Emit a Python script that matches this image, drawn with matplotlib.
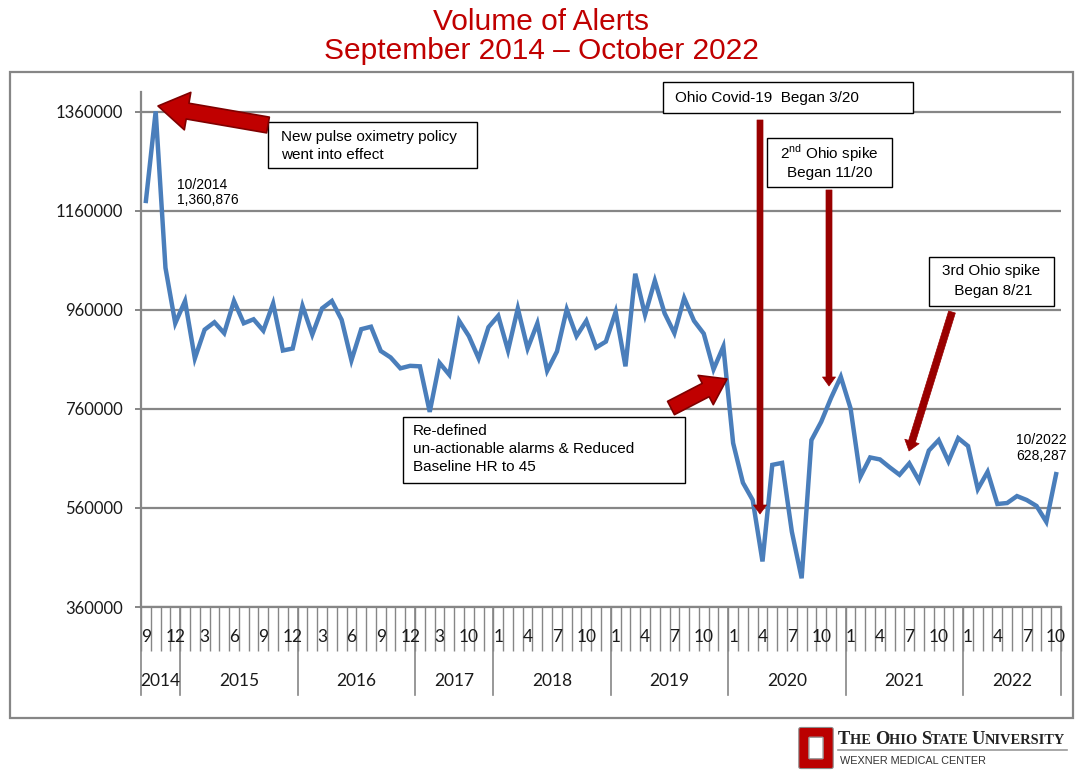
import matplotlib
matplotlib.use("Agg")
import matplotlib.pyplot as plt
import matplotlib.transforms as mtransforms
from matplotlib.patches import FancyArrowPatch, Rectangle, FancyBboxPatch

# ---------------- data ----------------
years = ["2014", "2015", "2016", "2017", "2018", "2019", "2020", "2021", "2022"]
months_per_year = [
    [9, 10, 11, 12],
    [1, 2, 3, 4, 5, 6, 7, 8, 9, 10, 11, 12],
    [1, 2, 3, 4, 5, 6, 7, 8, 9, 10, 11, 12],
    [1, 2, 3, 8, 9, 10, 11, 12],
    [1, 2, 3, 4, 5, 6, 7, 8, 9, 10, 11, 12],
    [1, 2, 3, 4, 5, 6, 7, 8, 9, 10, 11, 12],
    [1, 2, 3, 4, 5, 6, 7, 8, 9, 10, 11, 12],
    [1, 2, 3, 4, 5, 6, 7, 8, 9, 10, 11, 12],
    [1, 2, 3, 4, 5, 6, 7, 8, 9, 10],
]
alerts = [
    1180000, 1360876, 1045000, 933000,
    978000, 862000, 920000, 935000, 913000, 978000, 933000, 941000, 918000, 973000, 878000, 882000,
    968000, 910000, 963000, 978000, 940000, 858000, 921000, 926000, 877000, 864000, 842000, 847000,
    846000, 754000, 853000, 829000, 938000, 907000, 862000, 925000,
    948000, 878000, 963000, 882000, 933000, 837000, 876000, 961000, 907000, 938000, 884000, 896000,
    956000, 846000, 1033000, 950000, 1019000, 953000, 913000, 984000, 938000, 912000, 840000, 886000,
    691000, 611000, 576000, 452000, 647000, 651000, 512000, 418000, 697000, 734000, 782000, 825000,
    761000, 623000, 662000, 658000, 642000, 627000, 650000, 615000, 676000, 697000, 654000, 701000,
    685000, 598000, 633000, 568000, 570000, 584000, 576000, 564000, 532000, 628287,
]
y_ticks = [360000, 560000, 760000, 960000, 1160000, 1360000]
title_lines = ["Volume of Alerts", "September 2014 \u2013 October 2022"]

# ---------------- figure ----------------
W, H = 1083, 772
fig = plt.figure(figsize=(W / 100, H / 100), dpi=100)
fig.patch.set_facecolor("white")

def fx(px):
    return px / W

def fy(py):
    return 1 - py / H

AX_L, AX_R, AX_T, AX_B = 141, 1061, 92, 607
ax = fig.add_axes([fx(AX_L), fy(AX_B), (AX_R - AX_L) / W, (AX_B - AX_T) / H])
ax_h_px = AX_B - AX_T

GRAY = "#868686"
BLUE = "#4A7EBB"
RED = "#C00000"
DARKRED = "#990000"

# outer chart frame
fig.patches.append(Rectangle((fx(10), fy(718)), fx(1073) - fx(10), fy(72) - fy(718),
                             transform=fig.transFigure, fill=False, edgecolor=GRAY,
                             linewidth=1.6, zorder=0))

# categories
month_list = [m for ms in months_per_year for m in ms]
n = len(month_list)
xs = list(range(n))

ax.plot(xs, alerts, color=BLUE, linewidth=3.2, solid_joinstyle="miter", zorder=3)

ax.set_xlim(-0.5, n - 0.5)
ax.set_ylim(360000, 1400000)

# grid & spines
for s in ["top", "right"]:
    ax.spines[s].set_visible(False)
for s in ["left", "bottom"]:
    ax.spines[s].set_color(GRAY)
    ax.spines[s].set_linewidth(1.6)
ax.set_yticks(y_ticks)
ax.set_yticklabels([str(v) for v in y_ticks], fontsize=12, family="Lato", color="#1a1a1a")
ax.tick_params(axis="y", length=4, width=1.4, color=GRAY, pad=9)
ax.yaxis.grid(True, color=GRAY, linewidth=1.6)
ax.set_axisbelow(True)

# x axis: month boundary ticks
ax.set_xticks([i - 0.5 for i in range(n + 1)], minor=True)
ax.set_xticks([])
ax.tick_params(axis="x", which="minor", length=32, width=1.0, color=GRAY, direction="out")

trans = mtransforms.blended_transform_factory(ax.transData, ax.transAxes)
for i, m in enumerate(month_list):
    if i % 3 == 0:
        ax.text(i, -29.5 / ax_h_px, str(m), transform=trans, ha="center", va="center",
                fontsize=12.5, family="Lato", color="#1a1a1a", clip_on=False)

# year boundaries and labels
start = 0
bounds = [-0.5]
for yr, ms in zip(years, months_per_year):
    end = start + len(ms)
    bounds.append(end - 0.5)
    ax.text((start + end - 1) / 2, -74 / ax_h_px, yr, transform=trans, ha="center",
            va="center", fontsize=12.5, family="Lato", color="#1a1a1a", clip_on=False)
    start = end
for b in bounds:
    ax.plot([b, b], [0, -88 / ax_h_px], transform=trans, color=GRAY, linewidth=1.2,
            clip_on=False)

# title
fig.text(fx(541), fy(22), title_lines[0], ha="center", va="center", fontsize=21.5,
         color=RED, family="Liberation Sans")
fig.text(fx(541), fy(51), title_lines[1], ha="center", va="center", fontsize=21.5,
         color=RED, family="Liberation Sans")

FONT = "Liberation Sans"

def box(x0, y0, x1, y1):
    fig.patches.append(Rectangle((fx(x0), fy(y1)), fx(x1) - fx(x0), fy(y0) - fy(y1),
                                 transform=fig.transFigure, facecolor="white",
                                 edgecolor="black", linewidth=1.0, zorder=5))

def ftext(x, y, s, ha="left", size=11):
    fig.text(fx(x), fy(y), s, ha=ha, va="center", fontsize=size, family=FONT,
             color="black", zorder=6)

def arrow(x0, y0, x1, y1, tail, hw, hl, face, edge, lw=1.0):
    st = f"simple,head_length={hl * 0.72:.2f},head_width={hw * 0.72:.2f},tail_width={tail * 0.72:.2f}"
    p = FancyArrowPatch((fx(x0), fy(y0)), (fx(x1), fy(y1)), transform=fig.transFigure,
                        arrowstyle=st, mutation_scale=1, shrinkA=0, shrinkB=0,
                        facecolor=face, edgecolor=edge, linewidth=lw, zorder=7)
    fig.patches.append(p)

# pulse oximetry annotation
box(268, 122, 477, 168)
ftext(281, 137, "New pulse oximetry policy")
ftext(281, 155, "went into effect")
arrow(268, 125, 158, 106, tail=16, hw=38, hl=30, face=RED, edge="#7f0000", lw=1.2)
ftext(177, 185, "10/2014", size=10)
ftext(177, 200, "1,360,876", size=10)

# Covid annotation
box(663, 82, 913, 113)
ftext(675, 98, "Ohio Covid-19  Began 3/20")
arrow(760, 120, 760, 514, tail=6, hw=13, hl=9, face=DARKRED, edge=DARKRED, lw=0.5)

# 2nd spike
box(767, 138, 892, 187)
ftext(829.5, 153, r"2$^{\mathregular{nd}}$ Ohio spike", ha="center")
ftext(829.5, 173, "Began 11/20", ha="center")
arrow(829, 190, 829, 386, tail=6, hw=13, hl=9, face=DARKRED, edge=DARKRED, lw=0.5)

# 3rd spike
box(929, 257, 1054, 306)
ftext(991.5, 271, "3rd Ohio spike", ha="center")
ftext(991.5, 291, " Began 8/21", ha="center")
arrow(952, 312, 909, 451, tail=7, hw=15, hl=10, face=DARKRED, edge=DARKRED, lw=0.5)

# redefined alarms
box(403, 417, 685, 483)
ftext(413, 431, "Re-defined")
ftext(413, 449, "un-actionable alarms & Reduced")
ftext(413, 467, "Baseline HR to 45")
arrow(671, 408, 727, 379, tail=15, hw=33, hl=24, face=RED, edge="#7f0000", lw=1.2)

# last value label
ftext(1067, 440, "10/2022", ha="right", size=10)
ftext(1067, 456, "628,287", ha="right", size=10)

# ---------------- logo ----------------
fig.patches.append(FancyBboxPatch((fx(801), fy(767)), fx(831) - fx(801), fy(729) - fy(767),
                                  boxstyle="round,pad=0.002", transform=fig.transFigure,
                                  facecolor="#BB0000", edgecolor="#8a8a8a", linewidth=0.8,
                                  zorder=5))
fig.patches.append(FancyBboxPatch((fx(810), fy(758)), fx(822) - fx(810), fy(738) - fy(758),
                                  boxstyle="round,pad=0.001", transform=fig.transFigure,
                                  facecolor="white", edgecolor="#9a9a9a", linewidth=1.0,
                                  zorder=6))
fig.canvas.draw()
renderer = fig.canvas.get_renderer()
pieces = [("T", 13.2), ("HE ", 10.4), ("O", 13.2), ("HIO ", 10.4), ("S", 13.2), ("TATE ", 10.4),
          ("U", 13.2), ("NIVERSITY", 10.4)]
xcur = 838
for s, sz in pieces:
    t = fig.text(fx(xcur), fy(744), s, ha="left", va="baseline", fontsize=sz,
                 family="Liberation Serif", fontweight="bold", color="#222222")
    bb = t.get_window_extent(renderer=renderer)
    xcur += bb.width
fig.lines.append(plt.Line2D([fx(838), fx(1067)], [fy(750), fy(750)], transform=fig.transFigure,
                            color="#9a9a9a", linewidth=1.2))
fig.text(fx(840), fy(761), "WEXNER MEDICAL CENTER", ha="left", va="center", fontsize=7.8,
         family="Liberation Sans", color="#333333")

fig.savefig("out.png", dpi=100, facecolor="white")
